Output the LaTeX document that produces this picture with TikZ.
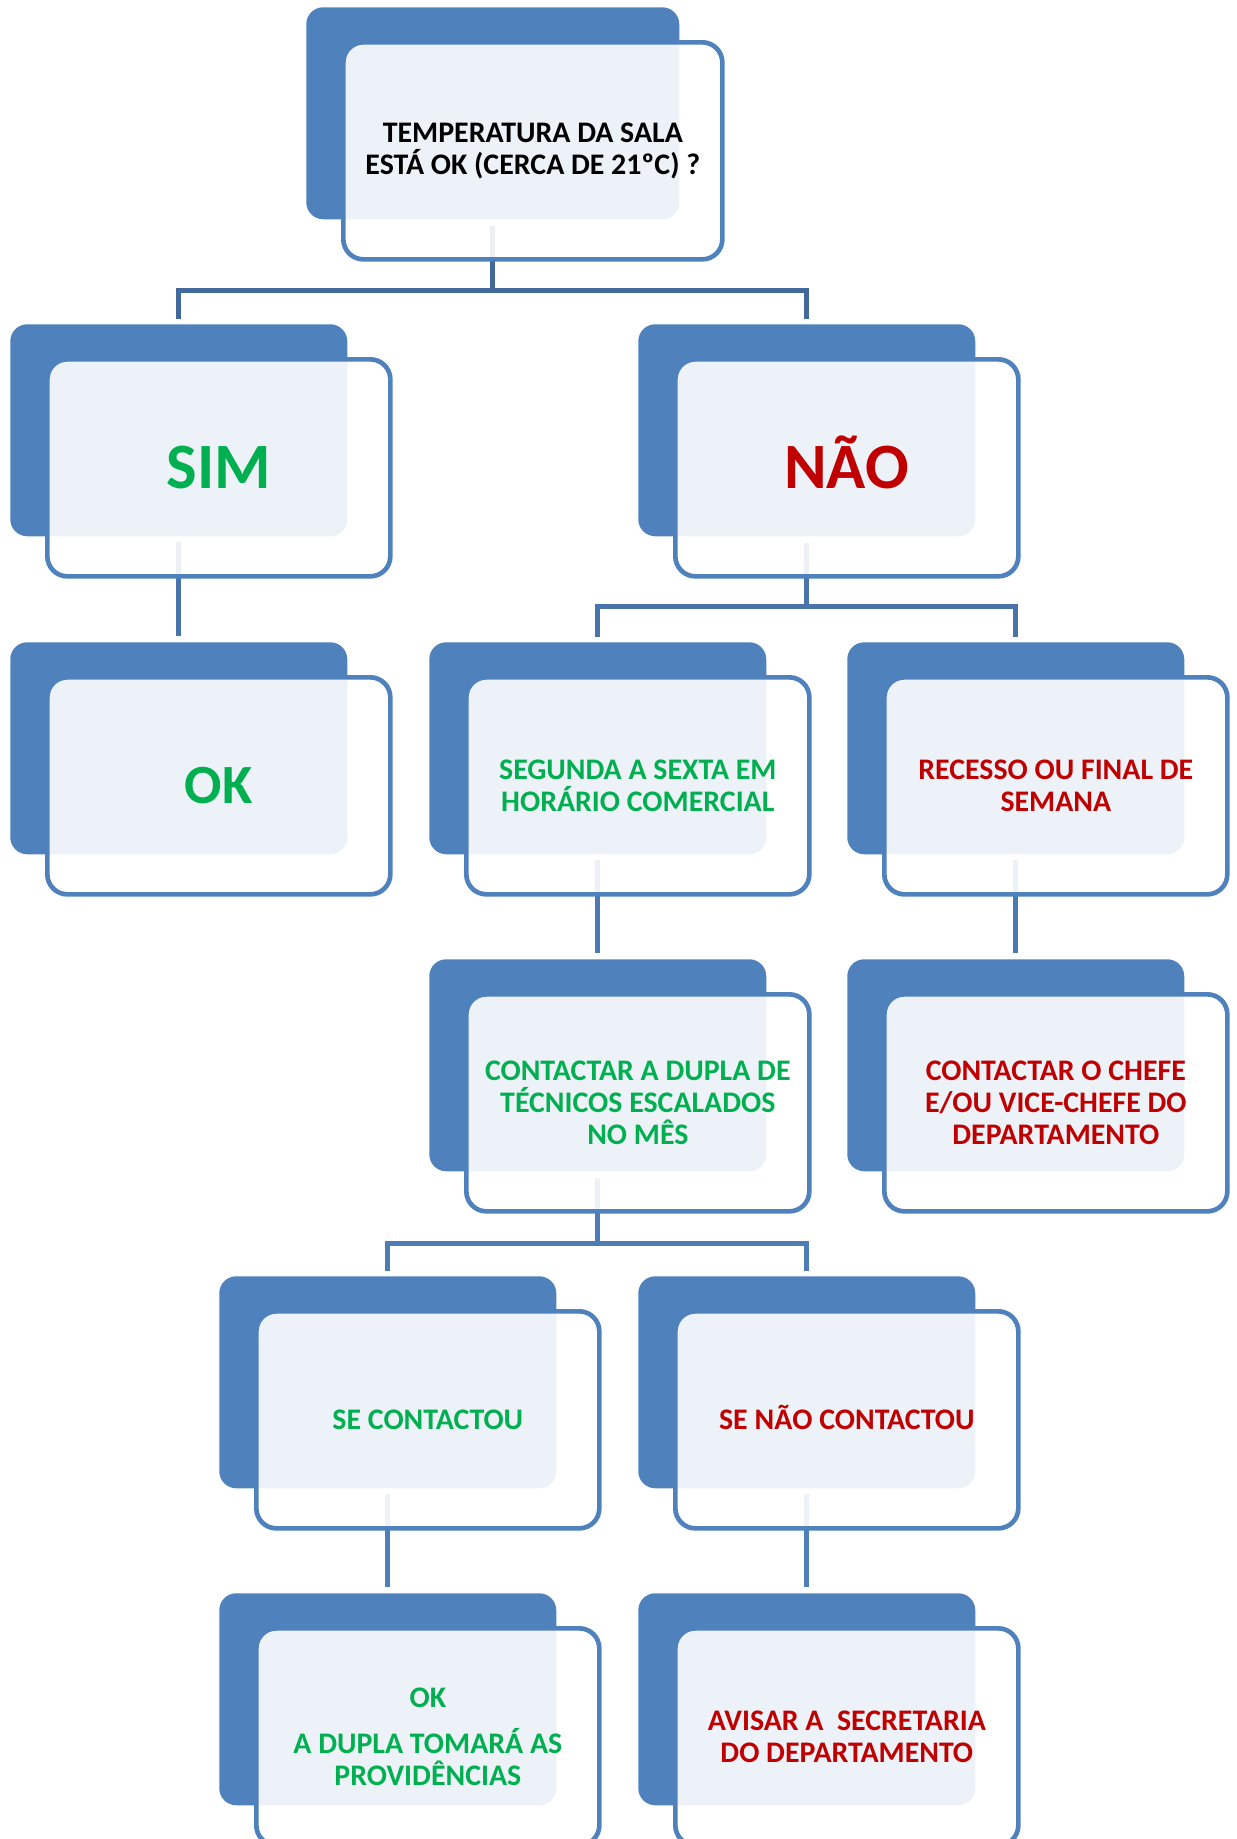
\documentclass[tikz,border=0pt]{standalone}
\usepackage{fontspec}
\setmainfont{Carlito}
\usetikzlibrary{calc}
\definecolor{darkbox}{HTML}{4F81BD}
\definecolor{outl}{HTML}{4F81BD}
\definecolor{cA}{HTML}{41699B}
\definecolor{cB}{HTML}{4874AB}
\definecolor{cC}{HTML}{4B79B3}
\definecolor{cD}{HTML}{4D7CB7}
\definecolor{cE}{HTML}{4F7FBB}
\definecolor{okgreen}{HTML}{00B050}
\definecolor{nored}{HTML}{C00000}
\tikzset{
  back/.style={anchor=north west, fill=darkbox, rounded corners=12.75pt, inner sep=0pt,
    minimum height=159pt, minimum width=252.75pt},
  front/.style={anchor=north west, draw=outl, line width=3.5pt, fill=white, fill opacity=0.9,
    text opacity=1, rounded corners=15pt, inner sep=0pt, minimum width=257.25pt,
    minimum height=162.75pt, align=center, font=\bfseries\fontsize{22.4pt}{24pt}\selectfont},
  bigtxt/.style={font=\bfseries\fontsize{48.5pt}{58pt}\selectfont},
  midtxt/.style={font=\bfseries\fontsize{41.5pt}{50pt}\selectfont},
  conn/.style={line width=3.75pt},
}
\begin{document}
\begin{tikzpicture}[x=0.75pt,y=-0.75pt]
\useasboundingbox (0,0) rectangle (1237,1839);
% back boxes
\node[back, minimum width=279.75pt] (b1) at (306,7) {};
\node[back] (b2) at (10,324) {};
\node[back] (b3) at (638,324) {};
\node[back] (b4) at (10,642) {};
\node[back] (b5) at (429,642) {};
\node[back] (b6) at (847,642) {};
\node[back] (b7) at (429,959) {};
\node[back] (b8) at (847,959) {};
\node[back] (b9) at (219,1276) {};
\node[back] (b10) at (638,1276) {};
\node[back] (b11) at (219,1593) {};
\node[back] (b12) at (638,1593) {};
% connectors
\draw[conn, draw=cA] ($(b1.south)+(0,6)$) -- ++(0,65) -| ($(b2.north)+(0,-5)$);
\draw[conn, draw=cA] ($(b1.south)+(0,6)$) -- ++(0,65) -| ($(b3.north)+(0,-5)$);
\draw[conn, draw=cB] ($(b2.south)+(0,5)$) -- ($(b4.north)+(0,-6)$);
\draw[conn, draw=cB] ($(b3.south)+(0,6)$) -- ++(0,64) -| ($(b5.north)+(0,-5)$);
\draw[conn, draw=cB] ($(b3.south)+(0,6)$) -- ++(0,64) -| ($(b6.north)+(0,-5)$);
\draw[conn, draw=cC] ($(b5.south)+(0,5)$) -- ($(b7.north)+(0,-6)$);
\draw[conn, draw=cC] ($(b6.south)+(0,5)$) -- ($(b8.north)+(0,-6)$);
\draw[conn, draw=cD] ($(b7.south)+(0,6)$) -- ++(0,66) -| ($(b9.north)+(0,-5)$);
\draw[conn, draw=cD] ($(b7.south)+(0,6)$) -- ++(0,66) -| ($(b10.north)+(0,-5)$);
\draw[conn, draw=cE] ($(b9.south)+(0,5)$) -- ($(b11.north)+(0,-6)$);
\draw[conn, draw=cE] ($(b10.south)+(0,5)$) -- ($(b12.north)+(0,-6)$);
% front boxes
\node[front, minimum width=284.25pt] (f1) at (341,40) {TEMPERATURA DA SALA\\ESTÁ OK (CERCA DE 21ºC) ?};
\node[front, bigtxt, text=okgreen] (f2) at (45,357) {SIM};
\node[front, bigtxt, text=nored] (f3) at (673,357) {N\smash{Ã}O};
\node[front, midtxt, text=okgreen] (f4) at (45,675) {OK};
\node[front, text=okgreen] (f5) at (464,675) {SEGUNDA A SEXTA EM\\HORÁRIO COMERCIAL};
\node[front, text=nored] (f6) at (882,675) {RECESSO OU FINAL DE\\SEMANA};
\node[front, text=okgreen] (f7) at (464,992) {CONTACTAR A DUPLA DE\\TÉCNICOS ESCALADOS\\NO MÊS};
\node[front, text=nored] (f8) at (882,992) {CONTACTAR O CHEFE\\E/OU VICE-CHEFE DO\\DEPARTAMENTO};
\node[front, text=okgreen] (f9) at (254,1309) {SE CONTACTOU};
\node[front, text=nored] (f10) at (673,1309) {SE N\smash{Ã}O CONTACTOU};
\node[front, text=okgreen] (f11) at (254,1626) {OK\\[10pt]A DUPLA TOMARÁ AS\\PROVIDÊNCIAS};
\node[front, text=nored] (f12) at (673,1626) {AVISAR A\ \ SECRETARIA\\DO DEPARTAMENTO};
\end{tikzpicture}
\end{document}
